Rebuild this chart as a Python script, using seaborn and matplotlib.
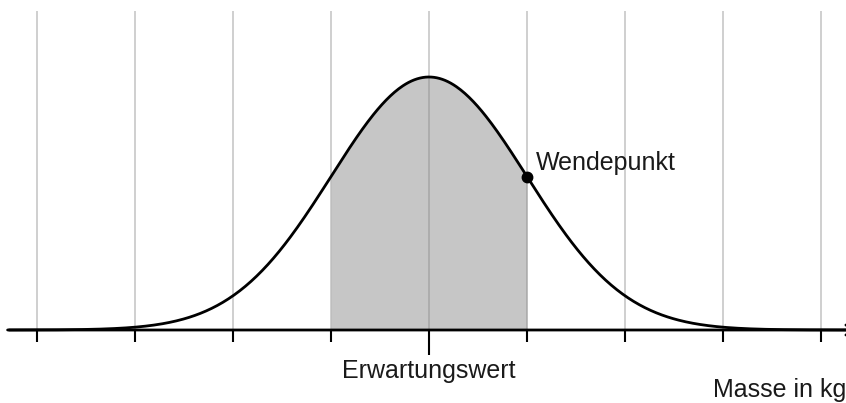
import numpy as np
import matplotlib
matplotlib.use("Agg")
import matplotlib.pyplot as plt
import seaborn as sns

# normal distribution, standardised units (mu=0, sigma=1)
mu = 0.0
sigma = 1.0
grid_steps = [-4, -3, -2, -1, 0, 1, 2, 3, 4]   # grid lines / ticks in multiples of sigma
shade_steps = [-1, 1]                          # shaded band mu +- sigma
inflection_step = 1                            # marked inflection point
label_mean = "Erwartungswert"
label_inflection = "Wendepunkt"
label_x = "Masse in kg"

# pixel scale of the reference (98 px per sigma, 253 px peak height)
PX_X = 98.0
PX_Y = 253.0 / (1 / np.sqrt(2 * np.pi))

def pdf(x):
    return np.exp(-0.5 * ((x - mu) / sigma) ** 2) / (sigma * np.sqrt(2 * np.pi))

sns.set_style("white")
plt.rcParams["font.family"] = ["Liberation Sans", "DejaVu Sans"]

fig = plt.figure(figsize=(8.46, 4.03), dpi=100)
ax = fig.add_axes([0, 0, 1, 1])
ax.set_xlim(-429 / PX_X, 417 / PX_X)
ax.set_ylim(-(403 - 330) / PX_Y, 330 / PX_Y)
ax.axis("off")

x = np.linspace(-4.3, 4.3, 600)
y = pdf(x)

# shaded band
xs = np.linspace(mu + shade_steps[0] * sigma, mu + shade_steps[1] * sigma, 200)
ax.fill_between(xs, 0, pdf(xs), color="#c6c6c6", lw=0, zorder=1)

# vertical grid lines
gx = [mu + k * sigma for k in grid_steps]
ax.vlines(gx, 0, 319 / PX_Y, color="#888888", alpha=0.4, lw=1.4, zorder=2)

# curve
sns.lineplot(x=x, y=y, ax=ax, color="black", lw=2.0, zorder=4)

# x axis with arrow
ax.annotate("", xy=(430 / PX_X, 0), xytext=(-420 / PX_X, 0),
            arrowprops=dict(arrowstyle="->", color="black", lw=2.0,
                            mutation_scale=18, shrinkA=0, shrinkB=0),
            annotation_clip=False, zorder=5)

# ticks
ax.vlines([g for g in gx if g != mu], 0, -12 / PX_Y, color="black", lw=1.5, zorder=5)
ax.vlines([mu], 0, -25 / PX_Y, color="black", lw=1.5, zorder=5)

# inflection point
xi = mu + inflection_step * sigma
ax.plot([xi], [pdf(xi)], "o", color="black", ms=7.5, zorder=6)
ax.annotate(label_inflection, xy=(xi, pdf(xi)), xytext=(9, 14),
            textcoords="offset pixels", ha="left", va="center",
            fontsize=18, color="#1a1a1a")

ax.text(mu, -41 / PX_Y, label_mean, ha="center", va="center",
        fontsize=18, color="#1a1a1a")
ax.text(417 / PX_X, -60 / PX_Y, label_x, ha="right", va="center",
        fontsize=18, color="#1a1a1a")

fig.savefig("out.png", dpi=100)
